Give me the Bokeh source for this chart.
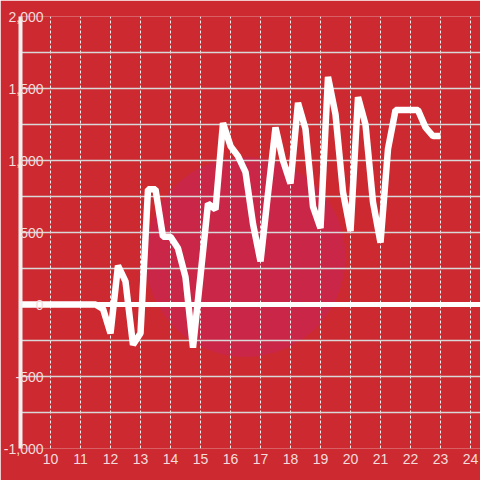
from bokeh.plotting import figure
from bokeh.models import Range1d, FixedTicker, Span, CustomJSTickFormatter
from bokeh.embed import file_html
from bokeh.resources import INLINE

# data (hour of day, value)
hours = [9, 9.25, 9.5, 9.75, 10, 10.25, 10.5, 10.75, 11, 11.25, 11.5, 11.75,
         12, 12.25, 12.5, 12.75, 13, 13.25, 13.5, 13.75, 14, 14.25, 14.5, 14.75,
         15, 15.25, 15.5, 15.75, 16, 16.25, 16.5, 16.75, 17, 17.25, 17.5, 17.75,
         18, 18.25, 18.5, 18.75, 19, 19.25, 19.5, 19.75, 20, 20.25, 20.5, 20.75,
         21, 21.25, 21.5, 21.75, 22, 22.25, 22.5, 22.75, 23]
values = [0, 0, 0, 0, 0, 0, 0, 0, 0, 0, 0, -30,
          -200, 270, 160, -280, -200, 800, 800, 470, 470, 390, 190, -300,
          200, 700, 660, 1260, 1100, 1030, 920, 560, 300, 770, 1230, 1000,
          840, 1400, 1220, 680, 530, 1580, 1320, 780, 510, 1440, 1250, 710,
          430, 1080, 1350, 1350, 1350, 1350, 1230, 1170, 1170]

x_ticks = list(range(10, 25))
y_ticks = [-1000, -500, 0, 500, 1000, 1500, 2000]
y_grid = [-1000, -750, -500, -250, 0, 250, 500, 750, 1000, 1250, 1500, 1750, 2000]

# watermark circle
wm_x = [16.5]
wm_y = [330]

BG = "#cc2a30"
LABEL = "#f3dcdc"

p = figure(width=480, height=480, output_backend="svg", toolbar_location=None,
           x_range=Range1d(9, 24.333), y_range=Range1d(-1000, 2000),
           min_border_left=20, min_border_right=0, min_border_top=16, min_border_bottom=32)
p.background_fill_color = BG
p.border_fill_color = BG
p.outline_line_color = None

p.scatter(wm_x, wm_y, size=200, fill_color="#c9274a", line_color=None,
          fill_alpha=0.95, level="image")

# grids
p.xgrid.ticker = FixedTicker(ticks=x_ticks)
p.xgrid.grid_line_color = "#eeeeee"
p.xgrid.grid_line_dash = "3 2"
p.xgrid.grid_line_width = 1
p.ygrid.ticker = FixedTicker(ticks=y_grid)
p.ygrid.grid_line_color = "#d8d8d8"
p.ygrid.grid_line_width = 1.5

p.add_layout(Span(location=0, dimension="width", line_color="#ffffff",
                  line_width=5, level="underlay"))

p.line(hours, values, line_color="#ffffff", line_width=6.5)

# axes
xa = p.xaxis[0]
xa.ticker = FixedTicker(ticks=x_ticks)
xa.axis_line_color = None
xa.major_tick_line_color = None
xa.minor_tick_line_color = None
xa.major_tick_out = 0
xa.minor_tick_out = 0
xa.major_label_standoff = 5
xa.major_label_text_color = LABEL
xa.major_label_text_font = "Liberation Sans"
xa.major_label_text_font_size = "14px"

ya = p.yaxis[0]
ya.ticker = FixedTicker(ticks=y_ticks)
ya.formatter = CustomJSTickFormatter(code="return tick.toLocaleString('en-US');")
ya.axis_line_color = "#f0f0f0"
ya.axis_line_width = 4
ya.major_tick_line_color = None
ya.minor_tick_line_color = None
ya.major_tick_out = 0
ya.minor_tick_out = 0
ya.major_label_standoff = -23
ya.major_label_text_color = LABEL
ya.major_label_text_font = "Liberation Sans"
ya.major_label_text_font_size = "14px"

html = file_html(p, INLINE)
html = html.replace("<body>", '<body style="background-color:%s;">' % BG, 1)
open("out.html", "w").write(html)
